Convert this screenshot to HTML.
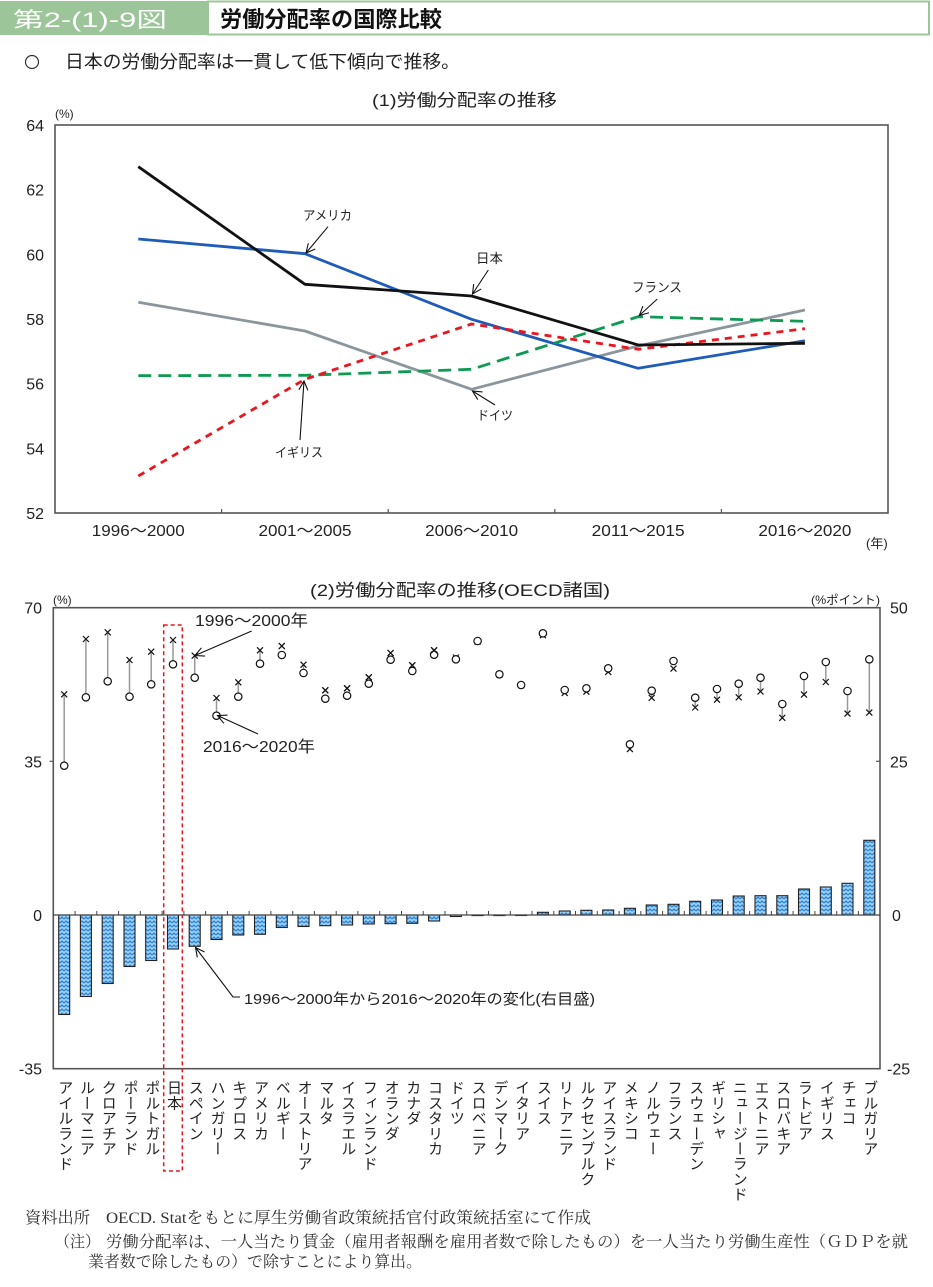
<!DOCTYPE html>
<html><head><meta charset="utf-8">
<style>
html,body{margin:0;padding:0;background:#fff;}
body{width:933px;height:1287px;position:relative;overflow:hidden;}
svg{position:absolute;left:0;top:0;}
.vl{position:absolute;top:1080px;width:16px;writing-mode:vertical-rl;text-orientation:upright;font-family:"Liberation Sans","Noto Sans CJK JP",sans-serif;font-size:15px;line-height:16px;color:#222;letter-spacing:0.2px;}
</style></head><body>
<svg width="933" height="1287" viewBox="0 0 933 1287" xmlns="http://www.w3.org/2000/svg" font-family="Liberation Sans, Noto Sans CJK JP, sans-serif">
<defs>
<marker id="ah" viewBox="-1 -5 11 10" refX="9" refY="0" markerWidth="11" markerHeight="10" markerUnits="userSpaceOnUse" orient="auto">
<path d="M0,-4.5 L9,0 L0,4.5" fill="none" stroke="#111" stroke-width="1.1"/>
</marker>
<pattern id="zz" patternUnits="userSpaceOnUse" width="4" height="4">
<rect width="4" height="4" fill="#a2d2f4"/>
<path d="M0,3 L2,1 L4,3" fill="none" stroke="#2a84da" stroke-width="1.3"/>
</pattern>
</defs>

<!-- Header -->
<rect x="0" y="1" width="208" height="34" fill="#9cc69a"/>
<rect x="208" y="1.5" width="721" height="33" fill="#fff" stroke="#9cc69a" stroke-width="2"/>
<text x="13" y="27" font-size="21" fill="#fff" textLength="154" lengthAdjust="spacingAndGlyphs">第2-(1)-9図</text>
<text x="220" y="27" font-size="22" font-weight="bold" fill="#111" textLength="222" lengthAdjust="spacingAndGlyphs">労働分配率の国際比較</text>

<circle cx="32" cy="62" r="6.5" fill="none" stroke="#333" stroke-width="1.2"/>
<text x="65" y="68" font-size="18" fill="#222" textLength="395" lengthAdjust="spacingAndGlyphs">日本の労働分配率は一貫して低下傾向で推移。</text>

<!-- Chart 1 -->
<text x="372" y="106" font-size="17" fill="#222" textLength="185" lengthAdjust="spacingAndGlyphs">(1)労働分配率の推移</text>
<text x="55" y="118" font-size="12" fill="#222">(%)</text>
<g font-size="16" fill="#222" text-anchor="end">
<text x="44" y="131">64</text>
<text x="44" y="195.7">62</text>
<text x="44" y="260.3">60</text>
<text x="44" y="325">58</text>
<text x="44" y="389.7">56</text>
<text x="44" y="454.3">54</text>
<text x="44" y="519">52</text>
</g>
<rect x="55" y="125" width="833" height="388" fill="none" stroke="#555" stroke-width="1.6"/>
<g stroke="#555" stroke-width="1.2">
<line x1="221.6" y1="513" x2="221.6" y2="509"/>
<line x1="388.2" y1="513" x2="388.2" y2="509"/>
<line x1="554.8" y1="513" x2="554.8" y2="509"/>
<line x1="721.4" y1="513" x2="721.4" y2="509"/>
</g>
<g font-size="16" fill="#222" text-anchor="middle">
<text x="138.3" y="536" textLength="93" lengthAdjust="spacingAndGlyphs">1996～2000</text>
<text x="305" y="536" textLength="93" lengthAdjust="spacingAndGlyphs">2001～2005</text>
<text x="471.6" y="536" textLength="93" lengthAdjust="spacingAndGlyphs">2006～2010</text>
<text x="638.2" y="536" textLength="93" lengthAdjust="spacingAndGlyphs">2011～2015</text>
<text x="804.9" y="536" textLength="93" lengthAdjust="spacingAndGlyphs">2016～2020</text>
</g>
<text x="866" y="548" font-size="13" fill="#222">(年)</text>

<g fill="none" stroke-width="2.8" stroke-linejoin="round">
<polyline points="138.3,302.3 305,331 471.6,389.3 638.2,346 804.9,310" stroke="#8a959c"/>
<polyline points="138.3,239 305,253.7 471.6,319.3 638.2,368.3 804.9,340.7" stroke="#1f5cb8"/>
<polyline points="138.3,375.7 305,375.3 471.6,369.3 638.2,316.7 804.9,321.3" stroke="#0e9a52" stroke-dasharray="13,7"/>
<polyline points="138.3,476 305,379.3 471.6,324 638.2,349.3 804.9,328.7" stroke="#e8161e" stroke-dasharray="7,6"/>
<polyline points="138.3,166.7 305,284.3 471.6,296 638.2,345 804.9,343.3" stroke="#111"/>
</g>

<g stroke="#111" stroke-width="1.1" marker-end="url(#ah)">
<line x1="328" y1="226.7" x2="306" y2="253"/>
<line x1="488.3" y1="270" x2="472.5" y2="294"/>
<line x1="657.3" y1="299" x2="639.3" y2="315.5"/>
<line x1="495" y1="405" x2="472.5" y2="391"/>
<line x1="300" y1="440" x2="304" y2="381"/>
</g>
<g font-size="13" fill="#222">
<text x="303" y="220" textLength="49" lengthAdjust="spacingAndGlyphs">アメリカ</text>
<text x="476" y="263" textLength="27" lengthAdjust="spacingAndGlyphs">日本</text>
<text x="632" y="292" textLength="50" lengthAdjust="spacingAndGlyphs">フランス</text>
<text x="477" y="420" textLength="36" lengthAdjust="spacingAndGlyphs">ドイツ</text>
<text x="275" y="457" textLength="48" lengthAdjust="spacingAndGlyphs">イギリス</text>
</g>

<!-- Chart 2 -->
<text x="310" y="596" font-size="17" fill="#222" textLength="300" lengthAdjust="spacingAndGlyphs">(2)労働分配率の推移(OECD諸国)</text>
<text x="53" y="604" font-size="12" fill="#222">(%)</text>
<text x="811" y="604" font-size="12" fill="#222" textLength="69" lengthAdjust="spacingAndGlyphs">(%ポイント)</text>
<g font-size="16" fill="#222" text-anchor="end">
<text x="42" y="613.5">70</text>
<text x="42" y="767.3">35</text>
<text x="42" y="921">0</text>
<text x="42" y="1074.5">-35</text>
</g>
<g font-size="16" fill="#222">
<text x="890" y="613.5">50</text>
<text x="890" y="767.3">25</text>
<text x="892" y="921">0</text>
<text x="887" y="1074.5">-25</text>
</g>
<rect x="53.3" y="607.7" width="826.7" height="461" fill="none" stroke="#555" stroke-width="1.6"/>
<g stroke="#555" stroke-width="1.2">
<line x1="49.5" y1="761.3" x2="53.3" y2="761.3"/>
<line x1="876" y1="761.3" x2="880" y2="761.3"/>
</g>

<!-- Japan dashed box -->
<rect x="163.7" y="625" width="18.6" height="546" fill="none" stroke="#e8161e" stroke-width="1.5" stroke-dasharray="4,3"/>

<!-- Bars -->
<g fill="url(#zz)" stroke="#222" stroke-width="1.1">
<rect x="58.7" y="915" width="11" height="99.5"/>
<rect x="80.4" y="915" width="11" height="81.5"/>
<rect x="102.2" y="915" width="11" height="68.5"/>
<rect x="124" y="915" width="11" height="51.5"/>
<rect x="145.7" y="915" width="11" height="45.5"/>
<rect x="167.5" y="915" width="11" height="34"/>
<rect x="189.2" y="915" width="11" height="31.3"/>
<rect x="211" y="915" width="11" height="24.5"/>
<rect x="232.8" y="915" width="11" height="20"/>
<rect x="254.5" y="915" width="11" height="19.3"/>
<rect x="276.3" y="915" width="11" height="12.5"/>
<rect x="298" y="915" width="11" height="11.5"/>
<rect x="319.8" y="915" width="11" height="10.7"/>
<rect x="341.6" y="915" width="11" height="10"/>
<rect x="363.3" y="915" width="11" height="9"/>
<rect x="385.1" y="915" width="11" height="8.7"/>
<rect x="406.8" y="915" width="11" height="8.3"/>
<rect x="428.6" y="915" width="11" height="6"/>
<rect x="450.4" y="915" width="11" height="1.5"/>
<rect x="472.1" y="915" width="11" height="0.6"/>
<rect x="493.9" y="915" width="11" height="0.6"/>
<rect x="515.6" y="915" width="11" height="0.5"/>
<rect x="537.4" y="912.3" width="11" height="2.7"/>
<rect x="559.2" y="911" width="11" height="4"/>
<rect x="580.9" y="910.3" width="11" height="4.7"/>
<rect x="602.7" y="910" width="11" height="5"/>
<rect x="624.4" y="908.3" width="11" height="6.7"/>
<rect x="646.2" y="905" width="11" height="10"/>
<rect x="668" y="904.3" width="11" height="10.7"/>
<rect x="689.7" y="901.3" width="11" height="13.7"/>
<rect x="711.5" y="900" width="11" height="15"/>
<rect x="733.2" y="896" width="11" height="19"/>
<rect x="755" y="895.7" width="11" height="19.3"/>
<rect x="776.8" y="895.7" width="11" height="19.3"/>
<rect x="798.5" y="889" width="11" height="26"/>
<rect x="820.3" y="887" width="11" height="28"/>
<rect x="842" y="883.3" width="11" height="31.7"/>
<rect x="863.8" y="840.3" width="11" height="74.7"/>
</g>
<line x1="53.3" y1="915" x2="880" y2="915" stroke="#444" stroke-width="1.3"/>
<g stroke="#444" stroke-width="1">
<path d="M75.1,915v-4M96.8,915v-4M118.6,915v-4M140.3,915v-4M162.1,915v-4M183.9,915v-4M205.6,915v-4M227.4,915v-4M249.1,915v-4M270.9,915v-4M292.7,915v-4M314.4,915v-4M336.2,915v-4M357.9,915v-4M379.7,915v-4M401.5,915v-4M423.2,915v-4M445,915v-4M466.7,915v-4M488.5,915v-4M510.3,915v-4M532,915v-4M553.8,915v-4M575.5,915v-4M597.3,915v-4M619.1,915v-4M640.8,915v-4M662.6,915v-4M684.3,915v-4M706.1,915v-4M727.9,915v-4M749.6,915v-4M771.4,915v-4M793.1,915v-4M814.9,915v-4M836.7,915v-4M858.4,915v-4"/>
</g>

<!-- connectors -->
<g stroke="#999" stroke-width="1.5">
<line x1="64.2" y1="694.3" x2="64.2" y2="765.7"/>
<line x1="85.9" y1="639" x2="85.9" y2="697.3"/>
<line x1="107.7" y1="632.3" x2="107.7" y2="681.3"/>
<line x1="129.5" y1="660" x2="129.5" y2="696.7"/>
<line x1="151.2" y1="651.7" x2="151.2" y2="684.3"/>
<line x1="173" y1="640" x2="173" y2="664.3"/>
<line x1="194.7" y1="655.7" x2="194.7" y2="677.7"/>
<line x1="216.5" y1="698" x2="216.5" y2="715.7"/>
<line x1="238.3" y1="682.3" x2="238.3" y2="696.7"/>
<line x1="260" y1="650.3" x2="260" y2="663.7"/>
<line x1="303.5" y1="664.7" x2="303.5" y2="673"/>
<line x1="651.7" y1="690.7" x2="651.7" y2="697.8"/>
<line x1="695.2" y1="697.7" x2="695.2" y2="707.5"/>
<line x1="717" y1="689" x2="717" y2="699.7"/>
<line x1="738.7" y1="683.7" x2="738.7" y2="697.3"/>
<line x1="760.5" y1="677.7" x2="760.5" y2="691.5"/>
<line x1="782.3" y1="704" x2="782.3" y2="717.8"/>
<line x1="804" y1="676" x2="804" y2="694.6"/>
<line x1="825.8" y1="662" x2="825.8" y2="682"/>
<line x1="847.5" y1="691" x2="847.5" y2="713.6"/>
<line x1="869.3" y1="659.3" x2="869.3" y2="712.6"/>
</g>

<!-- x markers (1996-2000) -->
<g stroke="#111" stroke-width="1.2" fill="none">
<path d="M61.2,691.3l6,6m0,-6l-6,6"/>
<path d="M82.9,636l6,6m0,-6l-6,6"/>
<path d="M104.7,629.3l6,6m0,-6l-6,6"/>
<path d="M126.5,657l6,6m0,-6l-6,6"/>
<path d="M148.2,648.7l6,6m0,-6l-6,6"/>
<path d="M170,637l6,6m0,-6l-6,6"/>
<path d="M191.7,652.7l6,6m0,-6l-6,6"/>
<path d="M213.5,695l6,6m0,-6l-6,6"/>
<path d="M235.3,679.3l6,6m0,-6l-6,6"/>
<path d="M257,647.3l6,6m0,-6l-6,6"/>
<path d="M278.8,643l6,6m0,-6l-6,6"/>
<path d="M300.5,661.7l6,6m0,-6l-6,6"/>
<path d="M322.3,687.3l6,6m0,-6l-6,6"/>
<path d="M344.1,685.3l6,6m0,-6l-6,6"/>
<path d="M365.8,674.3l6,6m0,-6l-6,6"/>
<path d="M387.6,650l6,6m0,-6l-6,6"/>
<path d="M409.3,662.3l6,6m0,-6l-6,6"/>
<path d="M431.1,647.3l6,6m0,-6l-6,6"/>
<path d="M452.9,654.5l6,6m0,-6l-6,6"/>
<path d="M474.6,638.5l6,6m0,-6l-6,6"/>
<path d="M496.4,671.5l6,6m0,-6l-6,6"/>
<path d="M518.1,682.2l6,6m0,-6l-6,6"/>
<path d="M539.9,632.2l6,6m0,-6l-6,6"/>
<path d="M561.7,689.9l6,6m0,-6l-6,6"/>
<path d="M583.4,688.7l6,6m0,-6l-6,6"/>
<path d="M605.2,668.9l6,6m0,-6l-6,6"/>
<path d="M626.9,746.1l6,6m0,-6l-6,6"/>
<path d="M648.7,694.8l6,6m0,-6l-6,6"/>
<path d="M670.5,665.6l6,6m0,-6l-6,6"/>
<path d="M692.2,704.5l6,6m0,-6l-6,6"/>
<path d="M714,696.7l6,6m0,-6l-6,6"/>
<path d="M735.7,694.3l6,6m0,-6l-6,6"/>
<path d="M757.5,688.5l6,6m0,-6l-6,6"/>
<path d="M779.3,714.8l6,6m0,-6l-6,6"/>
<path d="M801,691.6l6,6m0,-6l-6,6"/>
<path d="M822.8,679l6,6m0,-6l-6,6"/>
<path d="M844.5,710.6l6,6m0,-6l-6,6"/>
<path d="M866.3,709.6l6,6m0,-6l-6,6"/>
</g>
<!-- circle markers (2016-2020) -->
<g stroke="#111" stroke-width="1.2" fill="#fff">
<circle cx="64.2" cy="765.7" r="3.7"/>
<circle cx="85.9" cy="697.3" r="3.7"/>
<circle cx="107.7" cy="681.3" r="3.7"/>
<circle cx="129.5" cy="696.7" r="3.7"/>
<circle cx="151.2" cy="684.3" r="3.7"/>
<circle cx="173" cy="664.3" r="3.7"/>
<circle cx="194.7" cy="677.7" r="3.7"/>
<circle cx="216.5" cy="715.7" r="3.7"/>
<circle cx="238.3" cy="696.7" r="3.7"/>
<circle cx="260" cy="663.7" r="3.7"/>
<circle cx="281.8" cy="655" r="3.7"/>
<circle cx="303.5" cy="673" r="3.7"/>
<circle cx="325.3" cy="698.7" r="3.7"/>
<circle cx="347.1" cy="695.7" r="3.7"/>
<circle cx="368.8" cy="683.7" r="3.7"/>
<circle cx="390.6" cy="659.7" r="3.7"/>
<circle cx="412.3" cy="671" r="3.7"/>
<circle cx="434.1" cy="654.7" r="3.7"/>
<circle cx="455.9" cy="659.3" r="3.7"/>
<circle cx="477.6" cy="641" r="3.7"/>
<circle cx="499.4" cy="674.3" r="3.7"/>
<circle cx="521.1" cy="685" r="3.7"/>
<circle cx="542.9" cy="633.3" r="3.7"/>
<circle cx="564.7" cy="690" r="3.7"/>
<circle cx="586.4" cy="688.3" r="3.7"/>
<circle cx="608.2" cy="668.3" r="3.7"/>
<circle cx="629.9" cy="744.3" r="3.7"/>
<circle cx="651.7" cy="690.7" r="3.7"/>
<circle cx="673.5" cy="661" r="3.7"/>
<circle cx="695.2" cy="697.7" r="3.7"/>
<circle cx="717" cy="689" r="3.7"/>
<circle cx="738.7" cy="683.7" r="3.7"/>
<circle cx="760.5" cy="677.7" r="3.7"/>
<circle cx="782.3" cy="704" r="3.7"/>
<circle cx="804" cy="676" r="3.7"/>
<circle cx="825.8" cy="662" r="3.7"/>
<circle cx="847.5" cy="691" r="3.7"/>
<circle cx="869.3" cy="659.3" r="3.7"/>
</g>
<!-- redraw x over circles where overlapping -->
<g stroke="#111" stroke-width="1.2" fill="none">
<path d="M278.8,643l6,6m0,-6l-6,6"/>
<path d="M322.3,687.3l6,6m0,-6l-6,6"/>
<path d="M344.1,685.3l6,6m0,-6l-6,6"/>
<path d="M365.8,674.3l6,6m0,-6l-6,6"/>
<path d="M387.6,650l6,6m0,-6l-6,6"/>
<path d="M409.3,662.3l6,6m0,-6l-6,6"/>
<path d="M431.1,647.3l6,6m0,-6l-6,6"/>
</g>

<!-- chart 2 annotations -->
<g stroke="#111" stroke-width="1.1" fill="none" marker-end="url(#ah)">
<line x1="251.7" y1="631" x2="195" y2="655.5"/>
<line x1="258" y1="734" x2="217.5" y2="715.5"/>
<polyline points="240,997 233,997 195.5,947.5"/>
</g>
<g font-size="16" fill="#222">
<text x="195" y="626" textLength="113" lengthAdjust="spacingAndGlyphs">1996～2000年</text>
<text x="203" y="752" textLength="112" lengthAdjust="spacingAndGlyphs">2016～2020年</text>
<text x="244" y="1004" font-size="15" textLength="351" lengthAdjust="spacingAndGlyphs">1996～2000年から2016～2020年の変化(右目盛)</text>
</g>

<!-- Footer -->
<g font-family="Liberation Serif, Noto Serif CJK SC, serif" font-size="16" fill="#333">
<text x="25" y="1223" textLength="65" lengthAdjust="spacingAndGlyphs">資料出所</text>
<text x="106" y="1223" textLength="485" lengthAdjust="spacingAndGlyphs">OECD. Statをもとに厚生労働省政策統括官付政策統括室にて作成</text>
<text x="55" y="1247" textLength="45" lengthAdjust="spacingAndGlyphs">（注）</text>
<text x="106" y="1247" textLength="802" lengthAdjust="spacingAndGlyphs">労働分配率は、一人当たり賃金（雇用者報酬を雇用者数で除したもの）を一人当たり労働生産性（ＧＤＰを就</text>
<text x="88" y="1267" textLength="334" lengthAdjust="spacingAndGlyphs">業者数で除したもの）で除すことにより算出。</text>
</g>
</svg>

<div class="vl" style="left:56.2px">アイルランド</div>
<div class="vl" style="left:77.9px">ルーマニア</div>
<div class="vl" style="left:99.7px">クロアチア</div>
<div class="vl" style="left:121.5px">ポーランド</div>
<div class="vl" style="left:143.2px">ポルトガル</div>
<div class="vl" style="left:165px">日本</div>
<div class="vl" style="left:186.7px">スペイン</div>
<div class="vl" style="left:208.5px">ハンガリー</div>
<div class="vl" style="left:230.3px">キプロス</div>
<div class="vl" style="left:252px">アメリカ</div>
<div class="vl" style="left:273.8px">ベルギー</div>
<div class="vl" style="left:295.5px">オーストリア</div>
<div class="vl" style="left:317.3px">マルタ</div>
<div class="vl" style="left:339.1px">イスラエル</div>
<div class="vl" style="left:360.8px">フィンランド</div>
<div class="vl" style="left:382.6px">オランダ</div>
<div class="vl" style="left:404.3px">カナダ</div>
<div class="vl" style="left:426.1px">コスタリカ</div>
<div class="vl" style="left:447.9px">ドイツ</div>
<div class="vl" style="left:469.6px">スロベニア</div>
<div class="vl" style="left:491.4px">デンマーク</div>
<div class="vl" style="left:513.1px">イタリア</div>
<div class="vl" style="left:534.9px">スイス</div>
<div class="vl" style="left:556.7px">リトアニア</div>
<div class="vl" style="left:578.4px">ルクセンブルク</div>
<div class="vl" style="left:600.2px">アイスランド</div>
<div class="vl" style="left:621.9px">メキシコ</div>
<div class="vl" style="left:643.7px">ノルウェー</div>
<div class="vl" style="left:665.5px">フランス</div>
<div class="vl" style="left:687.2px">スウェーデン</div>
<div class="vl" style="left:709px">ギリシャ</div>
<div class="vl" style="left:730.7px">ニュージーランド</div>
<div class="vl" style="left:752.5px">エストニア</div>
<div class="vl" style="left:774.3px">スロバキア</div>
<div class="vl" style="left:796px">ラトビア</div>
<div class="vl" style="left:817.8px">イギリス</div>
<div class="vl" style="left:839.5px">チェコ</div>
<div class="vl" style="left:861.3px">ブルガリア</div>
</body></html>
